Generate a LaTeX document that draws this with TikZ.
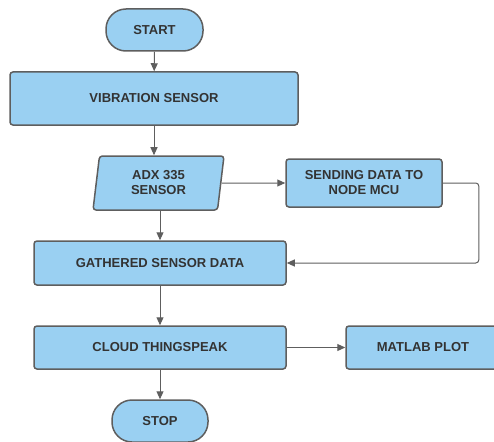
\documentclass[tikz,border=0pt]{standalone}
\usepackage{fontspec}
\setmainfont{Liberation Sans}
\usetikzlibrary{shapes.geometric,arrows.meta}
\definecolor{boxfill}{RGB}{154,208,242}
\definecolor{boxline}{RGB}{94,94,94}
\definecolor{boxtext}{RGB}{51,51,51}
\tikzset{
  flowbox/.style={draw=boxline, fill=boxfill, line width=1.5pt, rounded corners=3pt,
    text=boxtext, font=\fontsize{13}{15}\selectfont\bfseries, align=center,
    inner sep=0pt},
  terminal/.style={flowbox, rounded corners=20pt},
  iobox/.style={flowbox, trapezium, trapezium left angle=75, trapezium right angle=105,
    trapezium stretches body},
  flowarrow/.style={draw=boxline, line width=1pt, -{Triangle[length=8pt,width=7pt]}}
}
\begin{document}
\begin{tikzpicture}[x=1pt,y=-1pt]
  \useasboundingbox (0,0) rectangle (494,441);
  \clip (0,0) rectangle (494,441);
  % Start and stop: pill shapes
  \node[terminal, minimum width=97pt, minimum height=42pt] (start) at (154.5,30) {START};
  \node[terminal, minimum width=96pt, minimum height=42pt] (stop) at (160,421) {STOP};
  % Process boxes
  \node[flowbox, minimum width=288pt, minimum height=53pt] (vib) at (154,98.5) {VIBRATION SENSOR};
  \node[iobox, minimum width=131pt, minimum height=54pt] (adx) at (158.5,183) {ADX 335\\SENSOR};
  \node[flowbox, minimum width=156pt, minimum height=48pt] (send) at (364,183) {SENDING DATA TO\\NODE MCU};
  \node[flowbox, minimum width=252pt, minimum height=44pt] (gath) at (160,263) {GATHERED SENSOR DATA};
  \node[flowbox, minimum width=252pt, minimum height=43pt] (cloud) at (160,347.5) {CLOUD THINGSPEAK};
  \node[flowbox, minimum width=154pt, minimum height=43pt] (plot) at (423,347.5) {MATLAB PLOT};
  % Connectors
  \draw[flowarrow] (start) -- (vib);
  \draw[flowarrow] (vib.south) -- (vib.south |- adx.north);
  \draw[flowarrow] (adx.east) -- (send.west);
  \draw[flowarrow] (adx.south -| gath.north) -- (gath.north);
  \draw[flowarrow, rounded corners=3pt] (send.east) -- ++(36,0) |- (gath.east);
  \draw[flowarrow] (gath) -- (cloud);
  \draw[flowarrow] (cloud) -- (plot);
  \draw[flowarrow] (cloud) -- (stop);
\end{tikzpicture}
\end{document}
